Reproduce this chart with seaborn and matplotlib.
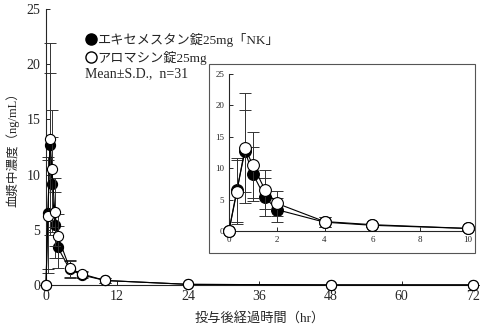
import numpy as np
import pandas as pd
import matplotlib
matplotlib.use("Agg")
import matplotlib.pyplot as plt
import seaborn as sns
from matplotlib.patches import Rectangle
from matplotlib.lines import Line2D

sns.set_style("ticks")
plt.rcParams["font.family"] = ["Liberation Serif", "Noto Sans CJK JP"]
plt.rcParams["axes.unicode_minus"] = False

# sampling times (hr)
hours = [0, 0.33, 0.67, 1, 1.5, 2, 4, 6, 10, 24, 48, 72]
# plasma concentration mean and SD (ng/mL)
nk_mean = [0, 6.5, 12.7, 9.1, 5.4, 3.4, 1.4, 0.9, 0.4, 0.05, 0.0, 0.0]
nk_sd = [0, 5.1, 6.5, 4.3, 3.0, 1.9, 0.8, 0.3, 0.2, 0.05, 0.0, 0.0]
aro_mean = [0, 6.2, 13.2, 10.5, 6.6, 4.4, 1.5, 1.0, 0.4, 0.05, 0.0, 0.0]
aro_sd = [0, 5.1, 8.7, 5.3, 3.1, 2.0, 0.8, 0.3, 0.2, 0.05, 0.0, 0.0]

label_nk = "エキセメスタン錠25mg「NK」"
label_aro = "アロマシン錠25mg"

df = pd.concat([
    pd.DataFrame({"time": hours, "conc": nk_mean, "sd": nk_sd, "drug": label_nk}),
    pd.DataFrame({"time": hours, "conc": aro_mean, "sd": aro_sd, "drug": label_aro}),
], ignore_index=True)

styles = {
    label_nk: dict(mfc="black", z=3),
    label_aro: dict(mfc="white", z=4),
}

fig = plt.figure(figsize=(4.84, 3.29), dpi=100)
ax = fig.add_axes([0.095, 0.134, 0.882, 0.839])
axin = fig.add_axes([0.473, 0.298, 0.494, 0.477])


def draw(a, data, ms, lw):
    for drug, sub in data.groupby("drug", sort=False):
        st = styles[drug]
        a.errorbar(sub["time"], sub["conc"], yerr=sub["sd"], fmt="none",
                   ecolor="#333333", elinewidth=0.7, capsize=4, capthick=0.7,
                   zorder=st["z"] - 1)
        sns.lineplot(data=sub, x="time", y="conc", ax=a, color="black",
                     lw=lw, marker="o", markersize=ms,
                     markerfacecolor=st["mfc"], markeredgecolor="black",
                     markeredgewidth=0.8, zorder=st["z"], legend=False)


draw(ax, df, 7.3, 0.8)
ax.set_xlim(0, 72)
ax.set_ylim(0, 25)
ax.set_xticks(range(0, 73, 12))
ax.set_yticks(range(0, 26, 5))
ax.tick_params(direction="in", length=3, labelsize=10, width=0.7, pad=4)
for s in ["top", "right"]:
    ax.spines[s].set_visible(False)
for s in ["left", "bottom"]:
    ax.spines[s].set_linewidth(0.8)
ax.set_xlabel("投与後経過時間（hr）", fontsize=9.5, labelpad=6)
ax.set_ylabel("血漿中濃度（ng/mL）", fontsize=9, labelpad=5)
for coll in ax.collections + ax.lines:
    coll.set_clip_on(False)

inset_df = df[df["time"] <= 10]
draw(axin, inset_df, 8.5, 0.8)
axin.set_xlim(0, 10)
axin.set_ylim(0, 25)
axin.set_xticks(range(0, 11, 2))
axin.set_yticks(range(0, 26, 5))
axin.tick_params(direction="in", length=3, labelsize=6.5, width=0.7)
for s in ["top", "right"]:
    axin.spines[s].set_visible(False)
for s in ["left", "bottom"]:
    axin.spines[s].set_linewidth(0.8)
axin.set_xlabel("")
axin.set_ylabel("")
axin.patch.set_alpha(0)
for coll in axin.collections + axin.lines:
    coll.set_clip_on(False)

# frame around the inset panel
fig.patches.append(Rectangle((0.432, 0.231), 0.549, 0.574,
                             transform=fig.transFigure, fill=True,
                             facecolor="white", edgecolor="#555555",
                             lw=0.8, zorder=0))
axin.set_zorder(5)

handles = [
    Line2D([], [], ls="none", marker="o", markersize=8,
           markerfacecolor="black", markeredgecolor="black"),
    Line2D([], [], ls="none", marker="o", markersize=8,
           markerfacecolor="white", markeredgecolor="black"),
]
fig.legend(handles, [label_nk, label_aro], loc="upper left",
           bbox_to_anchor=(0.18, 0.9), frameon=False, fontsize=9.5,
           handlelength=0.6, handletextpad=0.2, labelspacing=0.3,
           borderpad=0, borderaxespad=0)
fig.text(0.176, 0.776, "Mean±S.D.,  n=31", fontsize=10, va="center")

fig.savefig("out.png", dpi=100)
